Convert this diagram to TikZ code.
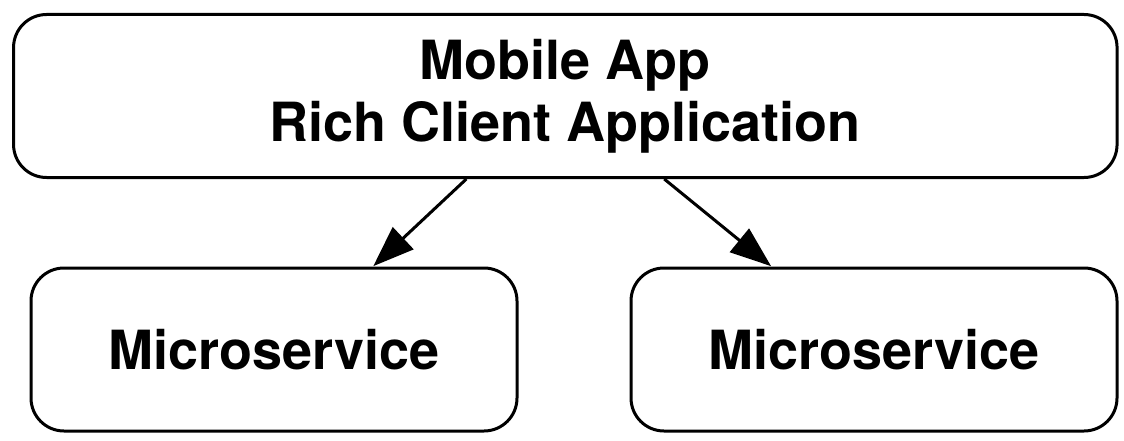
\documentclass[tikz,border=0pt]{standalone}
\usepackage{fontspec}
\setsansfont{TeX Gyre Heros}
\usetikzlibrary{arrows.meta,positioning}

\begin{document}
\begin{tikzpicture}[x=1pt, y=1pt, line width=3pt,
   box/.style={draw, rounded corners=33pt, minimum height=163pt, align=center,
               font=\sffamily\bfseries\fontsize{54}{62}\selectfont, inner sep=0pt},
   link/.style={-{Triangle[length=41pt,width=30pt]}, shorten >=0.5pt}]
\useasboundingbox (0,0) rectangle (1124,-441);
\node[box, minimum width=1103.5pt] (app) at (565.3,-96) {Mobile App\\Rich Client Application};
\node[box, minimum width=486pt] (ms1) at (274,-349.5) {Microservice};
\node[box, minimum width=486pt] (ms2) at (874,-349.5) {Microservice};
\draw[link] (app.220.5) -- (ms1.40.3);
\draw[link] (app.320.7) -- (ms2.141.4);
\end{tikzpicture}
\end{document}
